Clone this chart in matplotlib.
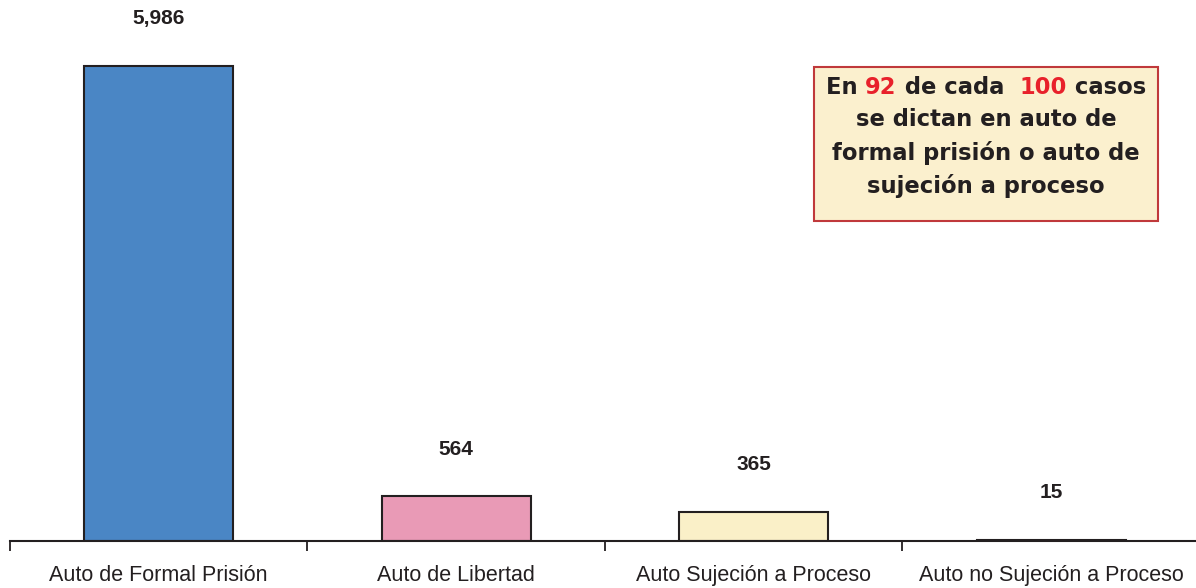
import matplotlib.pyplot as plt
from matplotlib.patches import Rectangle

categorias = ["Auto de Formal Prisión", "Auto de Libertad",
              "Auto Sujeción a Proceso", "Auto no Sujeción a Proceso"]
valores = [5986, 564, 365, 15]
colores = ["#4A86C5", "#E99AB6", "#FAF0C8", "#231F20"]

fig = plt.figure(figsize=(11.96, 5.88), dpi=100)
ax = fig.add_axes([10 / 1196, 1 - 541 / 588, 1 - 10 / 1196, 541 / 588])

x = range(len(valores))
ax.bar(x, valores, width=0.5, color=colores, edgecolor="#231F20", linewidth=1.5)
ax.set_xlim(-0.5, 3.487)
ax.set_ylim(0, 6818)

for i, v in enumerate(valores):
    ax.annotate(f"{v:,}", (i, v), xytext=(0, 34), textcoords="offset points",
                ha="center", va="center", fontsize=15, fontweight="bold",
                family="Liberation Sans", color="#231F20")

for s in ["top", "left", "right"]:
    ax.spines[s].set_visible(False)
ax.spines["bottom"].set_color("#231F20")
ax.spines["bottom"].set_linewidth(1.5)
ax.set_yticks([])
ax.set_xticks(list(x))
ax.set_xticklabels(categorias, fontsize=15.5, family="Liberation Sans", color="#231F20")
ax.tick_params(axis="x", which="major", length=0, pad=17)
ax.set_xticks([-0.5, 0.5, 1.5, 2.5], minor=True)
ax.tick_params(axis="x", which="minor", length=7, width=1.3, color="#231F20")

# cuadro de texto
fig.patches.append(Rectangle((814 / 1196, 1 - 221 / 588), 344 / 1196, 154 / 588,
                             transform=fig.transFigure, facecolor="#FBF0CE",
                             edgecolor="#C0393B", linewidth=1.5))
cx = 986 / 1196
fs = 16.3
lineas = ["se dictan en auto de", "formal prisión o auto de", "sujeción a proceso"]
for k, t in enumerate(lineas):
    fig.text(cx, 1 - (120 + 33 * k) / 588, t, ha="center", va="center",
             fontsize=fs, fontweight="bold", color="#231F20")

partes = [("En ", "#231F20"), ("92", "#E8212B"), (" de cada  ", "#231F20"),
          ("100", "#E8212B"), (" casos", "#231F20")]
r = fig.canvas.get_renderer()
anchos = []
for t, c in partes:
    tt = fig.text(0, 0, t.replace(" ", "\u00a0"), fontsize=fs, fontweight="bold")
    anchos.append(tt.get_window_extent(r).width)
    tt.remove()
x0 = cx * 1196 - sum(anchos) / 2
for (t, c), w in zip(partes, anchos):
    fig.text(x0 / 1196, 1 - 87 / 588, t.replace(" ", "\u00a0"), ha="left", va="center",
             fontsize=fs, fontweight="bold", color=c)
    x0 += w

fig.savefig("out.png", dpi=100)
